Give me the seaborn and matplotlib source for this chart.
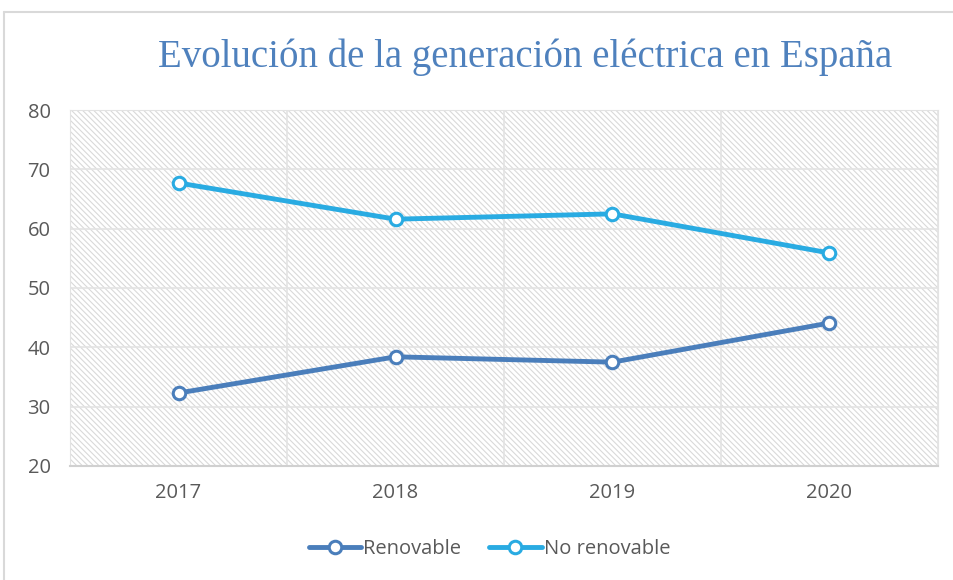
import pandas as pd
import seaborn as sns
import matplotlib.pyplot as plt
from matplotlib.patches import Rectangle
from matplotlib.lines import Line2D

years = [2017, 2018, 2019, 2020]
renovable = [32.3, 38.4, 37.5, 44.1]
no_renovable = [67.7, 61.6, 62.5, 55.9]

sns.set_style("white")
plt.rcParams['font.family'] = ['Open Sans', 'DejaVu Sans']
plt.rcParams['hatch.linewidth'] = 0.8

fig = plt.figure(figsize=(9.54, 5.8), dpi=100)
ax = fig.add_axes([0.0734, 0.1966, 0.9098, 0.6137])

# hatched plot area
ax.add_patch(Rectangle((0, 0), 1, 1, transform=ax.transAxes, facecolor='white',
                       edgecolor='#d9d9d9', lw=0, hatch='\\' * 6, zorder=0))

sns.lineplot(x=years, y=renovable, ax=ax, color='#4a7ebb', lw=3.5, marker='o', ms=9,
             mfc='white', mec='#4a7ebb', mew=2.2, label='Renovable', zorder=3)
sns.lineplot(x=years, y=no_renovable, ax=ax, color='#29abe2', lw=3.5, marker='o', ms=9,
             mfc='white', mec='#29abe2', mew=2.2, label='No renovable', zorder=3)

ax.set_xlim(years[0] - 0.5, years[-1] + 0.5)
ax.set_ylim(20, 80)
ax.set_yticks(range(20, 81, 10))
ax.set_xticks(years)
ax.set_xticks([y + 0.5 for y in [years[0] - 1] + years], minor=True)
ax.grid(axis='y', which='major', color='#e3e3e3', lw=1.2)
ax.grid(axis='x', which='minor', color='#e3e3e3', lw=1.2)
ax.grid(axis='x', which='major', visible=False)
ax.set_axisbelow(True)
ax.tick_params(axis='both', which='both', length=0, labelsize=14.5, labelcolor='#595959')
ax.tick_params(axis='y', pad=14)
ax.tick_params(axis='x', pad=12)
for s in ax.spines.values():
    s.set_color('#e3e3e3')
ax.spines['bottom'].set_color('#d0d0d0')
ax.spines['bottom'].set_linewidth(1.5)
ax.set_xlabel('')
ax.set_ylabel('')
ax.legend_.remove()

handles = [Line2D([], [], color=c, lw=3.5, marker='o', ms=9, mfc='white', mec=c, mew=2.2)
           for c in ['#4a7ebb', '#29abe2']]
fig.legend(handles, ['Renovable', 'No renovable'], loc='center', bbox_to_anchor=(0.513, 0.053),
           ncol=2, frameon=False, fontsize=14.5, labelcolor='#595959', handlelength=2.6,
           handletextpad=0.1, columnspacing=1.4)

fig.text(0.55, 1 - 57 / 580, 'Evolución de la generación eléctrica en España',
         ha='center', va='center', fontsize=28, color='#4f81bd', family='Liberation Serif')

# chart frame
fig.add_artist(Line2D([4 / 954, 1], [1 - 12 / 580] * 2, color='#d9d9d9', lw=1.5))
fig.add_artist(Line2D([4 / 954] * 2, [0, 1 - 12 / 580], color='#d9d9d9', lw=1.5))

fig.savefig('out.png', dpi=100)
